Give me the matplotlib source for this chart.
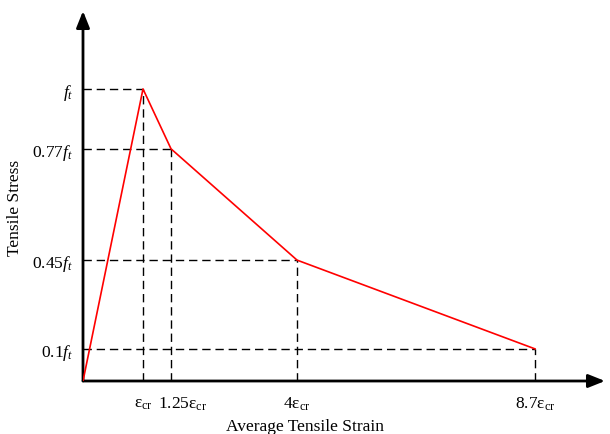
import matplotlib.pyplot as plt
import matplotlib.transforms as mtransforms

plt.rcParams['font.family'] = ['Liberation Serif', 'DejaVu Serif']
plt.rcParams['mathtext.fontset'] = 'custom'
plt.rcParams['mathtext.rm'] = 'Liberation Serif'
plt.rcParams['mathtext.it'] = 'Liberation Serif:italic'

# schematic positions of the curve points (x not to scale, as in the figure)
strain_pos = [0.0, 1.0, 1.467, 3.567, 7.533]
stress_pos = [0.0, 1.0, 0.795, 0.414, 0.110]
strain_labels = [r'$\mathrm{ε}_{\mathrm{cr}}$', r'$1.25\mathrm{ε}_{\mathrm{cr}}$',
                 r'$4\mathrm{ε}_{\mathrm{cr}}$', r'$8.7\mathrm{ε}_{\mathrm{cr}}$']
stress_labels = [r'$f_t$', r'$0.77f_t$', r'$0.45f_t$', r'$0.1f_t$']

fig = plt.figure(figsize=(6.1, 4.35), dpi=100)
ax = fig.add_axes([83 / 610, 53 / 435, 522 / 610, 370 / 435])
ax.set_xlim(0, 8.7)
ax.set_ylim(0, 1.267)
for s in ax.spines.values():
    s.set_visible(False)

# axes with arrows
for end in [(1.0, 0), (0, 1.0)]:
    ax.annotate('', xy=end, xytext=(0, 0), xycoords='axes fraction',
                arrowprops=dict(arrowstyle='-|>,head_length=1.0,head_width=0.4',
                                color='black', lw=2, shrinkA=0, shrinkB=0),
                annotation_clip=False)

# dashed guide lines
for x, y in zip(strain_pos[1:], stress_pos[1:]):
    ax.plot([0, x], [y, y], color='black', lw=1, ls=(0, (6, 3.5)))
    ax.plot([x, x], [0, y], color='black', lw=1, ls=(0, (6, 3.5)))

ax.plot(strain_pos, stress_pos, color='#ff0000', lw=1.2, zorder=3)

ax.set_xticks(strain_pos[1:], strain_labels)
ax.set_yticks(stress_pos[1:], stress_labels)
ax.tick_params(axis='both', length=0, labelsize=12.5)
ax.tick_params(axis='x', pad=10)
ax.tick_params(axis='y', pad=7)

# the 1.25 label sits a bit right of its guide line in the figure
lab = ax.get_xticklabels()[1]
lab.set_transform(lab.get_transform() + mtransforms.ScaledTranslation(12 / 100, 0, fig.dpi_scale_trans))

fig.text(305 / 610, 1 - 427 / 435, 'Average Tensile Strain', ha='center', va='center', fontsize=12.5)
fig.text(15 / 610, 1 - 208 / 435, 'Tensile Stress', ha='center', va='center',
         rotation=90, fontsize=12.5)

fig.savefig('out.png', dpi=100)
